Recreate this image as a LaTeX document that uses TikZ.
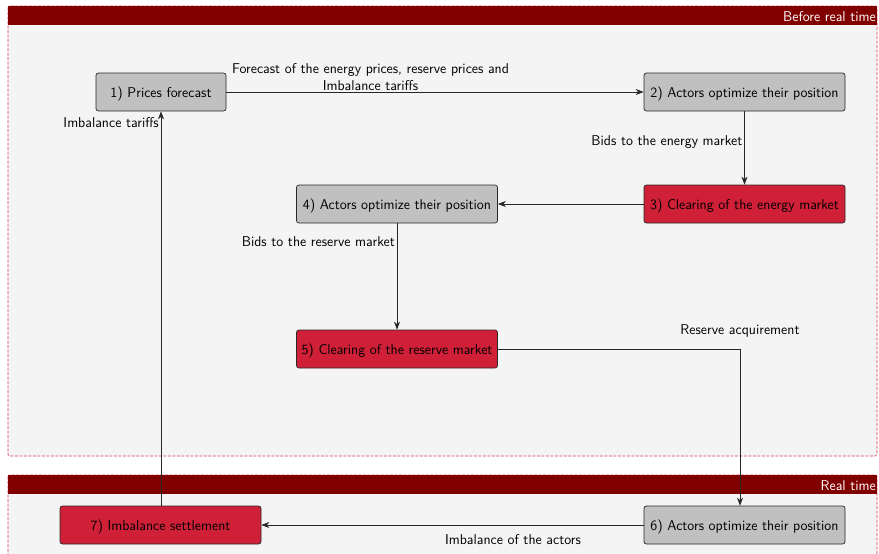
\documentclass[tikz,border=0pt]{standalone}
\usetikzlibrary{arrows.meta}
\definecolor{hdr}{RGB}{128,0,0}
\definecolor{panel}{RGB}{244,244,244}
\definecolor{dashc}{RGB}{210,60,88}
\definecolor{redbox}{RGB}{208,32,56}
\definecolor{graybox}{RGB}{192,192,192}
\definecolor{edgec}{RGB}{40,40,40}
\tikzset{
  txt/.style={font=\sffamily\fontsize{14.2}{16.5}\selectfont},
  panelbox/.style={draw=dashc, dash pattern=on 3pt off 1.5pt, fill=panel, rounded corners=1.5pt, line width=0.6pt},
  hdrband/.style={fill=hdr, draw=none},
  hdrtext/.style={txt, text=white, anchor=east, inner sep=1pt},
  basebox/.style={txt, draw=edgec, rounded corners=2.5pt, minimum height=38pt, inner sep=2pt, line width=0.7pt, text depth=0pt},
  graynode/.style={basebox, fill=graybox},
  rednode/.style={basebox, fill=redbox},
  conn/.style={draw=black!85, line width=0.7pt, -{Stealth[length=8pt,width=6pt,inset=2.5pt]}},
  lbl/.style={txt, inner sep=1pt}
}
\begin{document}
\begin{tikzpicture}[x=1pt,y=-1pt]
\clip (0,0) rectangle (879,554);
\fill[white] (0,0) rectangle (879,554);
% panels
\draw[panelbox] (8,6) rectangle (877,456);
\fill[hdrband] (8.3,6.3) rectangle (876.7,25);
\node[hdrtext] (hdrA) at (877,16.5) {Before real time};
\draw[panelbox] (8,475) rectangle (877,570);
\fill[hdrband] (8.3,475.3) rectangle (876.7,494);
\node[hdrtext] (hdrB) at (877,485.5) {Real time};
% nodes
\node[graynode, minimum width=130pt] (n1) at (161,92) {1) Prices forecast};
\node[graynode, minimum width=201pt] (n2) at (744.5,92) {2) Actors optimize their position};
\node[rednode, minimum width=201pt] (n3) at (744.5,204) {3) Clearing of the energy market};
\node[graynode, minimum width=201pt] (n4) at (397,204) {4) Actors optimize their position};
\node[rednode, minimum width=201pt] (n5) at (397,349) {5) Clearing of the reserve market};
\node[graynode, minimum width=201pt] (n6) at (744.5,525) {6) Actors optimize their position};
\node[rednode, minimum width=201pt] (n7) at (160.5,525) {7) Imbalance settlement};
% connectors
\draw[conn] (n1) -- (n2);
\node[lbl, align=center] (l12) at (370.5,77) {Forecast of the energy prices, reserve prices and\\Imbalance tariffs};
\draw[conn] (n2) -- (n3);
\node[lbl, anchor=east] (l23) at (743.5,142) {Bids to the energy market};
\draw[conn] (n3) -- (n4);
\draw[conn] (n4) -- (n5);
\node[lbl, anchor=east] (l45) at (396,242) {Bids to the reserve market};
\coordinate (c56) at (740,349);
\draw[conn] (n5.east) -- (c56) -- (n6.north -| c56);
\node[lbl] (l56) at (740,330.5) {Reserve acquirement};
\draw[conn] (n6) -- (n7);
\node[lbl] (l67) at (513,540) {Imbalance of the actors};
\draw[conn] (n7.north -| n1) -- (n1.south);
\node[lbl, anchor=east] (l71) at (160,123) {Imbalance tariffs};
\end{tikzpicture}
\end{document}
